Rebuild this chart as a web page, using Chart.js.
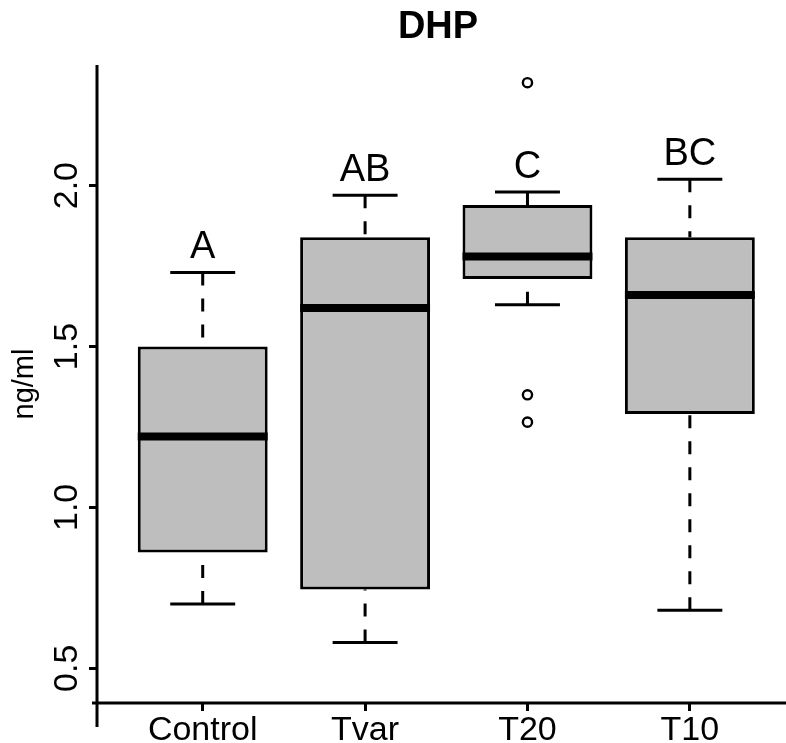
<!DOCTYPE html>
<html>
<head>
<meta charset="utf-8">
<title>DHP</title>
<script src="https://cdn.jsdelivr.net/npm/chart.js@4.4.1/dist/chart.umd.min.js"></script>
<style>
  html, body { margin: 0; padding: 0; background: #ffffff; }
  canvas { display: block; }
</style>
</head>
<body>
<canvas id="chart" width="786" height="743"></canvas>
<script>
// Groups along the x axis
const categories = ['Control', 'Tvar', 'T20', 'T10'];

// Box-plot summaries per group (ng/ml)
const whiskerLow  = [0.70, 0.58, 1.63, 0.68];
const quartile1   = [0.86, 0.745, 1.71, 1.29];
const medians     = [1.22, 1.62, 1.78, 1.66];
const quartile3   = [1.50, 1.84, 1.94, 1.84];
const whiskerHigh = [1.73, 1.97, 1.98, 2.02];

// Points outside the whiskers
const outlierGroups = ['T20', 'T20', 'T20'];
const outlierValues = [2.32, 1.35, 1.265];

// Significance letters above each group
const groupLetters = ['A', 'AB', 'C', 'BC'];

// Value axis ticks and axis limits
const yTicks = [0.5, 1.0, 1.5, 2.0];
const yLimits = [0.392, 2.375];
const xLimits = [0.349, 4.549];

const FONT = "'Liberation Sans', Arial, Helvetica, sans-serif";

// Whiskers, caps, medians, letters and the L-shaped axis frame
const boxplotParts = {
  id: 'boxplotParts',
  beforeDatasetsDraw(chart) {
    const ctx = chart.ctx;
    const y = chart.scales.y;
    const bars = chart.getDatasetMeta(0).data;
    ctx.save();
    ctx.strokeStyle = '#000';
    ctx.lineWidth = 3;
    ctx.lineCap = 'butt';
    bars.forEach((bar, i) => {
      const x = bar.x, w = bar.width;
      const yHi = y.getPixelForValue(whiskerHigh[i]);
      const yQ3 = y.getPixelForValue(quartile3[i]);
      const yQ1 = y.getPixelForValue(quartile1[i]);
      const yLo = y.getPixelForValue(whiskerLow[i]);
      ctx.setLineDash([13, 13]);
      ctx.beginPath();
      ctx.moveTo(x, yHi); ctx.lineTo(x, yQ3);
      ctx.moveTo(x, yLo); ctx.lineTo(x, yQ1);
      ctx.stroke();
      ctx.setLineDash([]);
      ctx.beginPath();
      ctx.moveTo(x - w / 4, yHi); ctx.lineTo(x + w / 4, yHi);
      ctx.moveTo(x - w / 4, yLo); ctx.lineTo(x + w / 4, yLo);
      ctx.stroke();
    });
    ctx.restore();
  },
  afterDatasetsDraw(chart) {
    const ctx = chart.ctx;
    const y = chart.scales.y;
    const bars = chart.getDatasetMeta(0).data;
    ctx.save();
    ctx.strokeStyle = '#000';
    ctx.fillStyle = '#000';
    ctx.lineCap = 'butt';
    ctx.lineWidth = 8;
    bars.forEach((bar, i) => {
      const x = bar.x, w = bar.width;
      const yMed = y.getPixelForValue(medians[i]);
      ctx.beginPath();
      ctx.moveTo(x - w / 2, yMed); ctx.lineTo(x + w / 2, yMed);
      ctx.stroke();
    });
    ctx.font = '38px ' + FONT;
    ctx.textAlign = 'center';
    ctx.textBaseline = 'alphabetic';
    bars.forEach((bar, i) => {
      const yHi = y.getPixelForValue(whiskerHigh[i]);
      ctx.fillText(groupLetters[i], bar.x, yHi - 14.5);
    });
    ctx.restore();
  },
  afterDraw(chart) {
    const ctx = chart.ctx;
    const a = chart.chartArea;
    ctx.save();
    ctx.strokeStyle = '#000';
    ctx.lineWidth = 3;
    ctx.beginPath();
    ctx.moveTo(a.left, a.top); ctx.lineTo(a.left, a.bottom + 24);
    ctx.moveTo(a.left - 5, a.bottom); ctx.lineTo(chart.width, a.bottom);
    ctx.stroke();
    ctx.restore();
  }
};

const tickGrid = {
  offset: false,
  drawOnChartArea: false,
  drawTicks: true,
  tickLength: 8,
  tickWidth: 3,
  tickColor: '#000',
  color: '#000'
};

new Chart(document.getElementById('chart'), {
  type: 'bar',
  data: {
    datasets: [
      {
        type: 'bar',
        data: categories.map((c, i) => ({ x: i + 1, y: [quartile1[i], quartile3[i]] })),
        backgroundColor: '#bebebe',
        borderColor: '#000',
        borderWidth: 3,
        borderSkipped: false,
        barPercentage: 0.8,
        categoryPercentage: 1.0
      },
      {
        type: 'scatter',
        data: outlierValues.map((v, i) => ({ x: categories.indexOf(outlierGroups[i]) + 1, y: v })),
        pointRadius: 4.6,
        pointBorderWidth: 2.4,
        pointBorderColor: '#000',
        pointBackgroundColor: 'rgba(0,0,0,0)',
        showLine: false
      }
    ]
  },
  options: {
    responsive: false,
    animation: false,
    events: [],
    layout: { padding: 0 },
    plugins: {
      legend: { display: false },
      tooltip: { enabled: false },
      title: {
        display: true,
        text: 'DHP',
        fullSize: false,
        color: '#000',
        font: { family: FONT, size: 38, weight: 'bold', lineHeight: 1.2 },
        padding: { top: 4.5, bottom: 14.9 }
      }
    },
    scales: {
      x: {
        type: 'linear',
        min: xLimits[0],
        max: xLimits[1],
        offset: false,
        afterBuildTicks: s => { s.ticks = categories.map((c, i) => ({ value: i + 1 })); },
        afterFit: s => { s.height = 40; s.paddingLeft = 0; s.paddingRight = 0; },
        grid: tickGrid,
        border: { display: false },
        ticks: {
          callback: v => categories[v - 1],
          color: '#000',
          font: { family: FONT, size: 34 },
          padding: -1,
          maxRotation: 0,
          autoSkip: false
        }
      },
      y: {
        type: 'linear',
        min: yLimits[0],
        max: yLimits[1],
        afterBuildTicks: s => { s.ticks = yTicks.map(v => ({ value: v })); },
        afterFit: s => { s.width = 97; s.paddingTop = 0; s.paddingBottom = 0; },
        grid: tickGrid,
        border: { display: false },
        ticks: {
          callback: v => v.toFixed(1),
          color: '#000',
          font: { family: FONT, size: 34 },
          padding: -2,
          minRotation: 90,
          maxRotation: 90,
          crossAlign: 'center',
          autoSkip: false
        },
        title: {
          display: true,
          text: 'ng/ml',
          color: '#000',
          font: { family: FONT, size: 29 },
          padding: { top: 7.5, bottom: 0 }
        }
      }
    }
  },
  plugins: [boxplotParts]
});
</script>
</body>
</html>
